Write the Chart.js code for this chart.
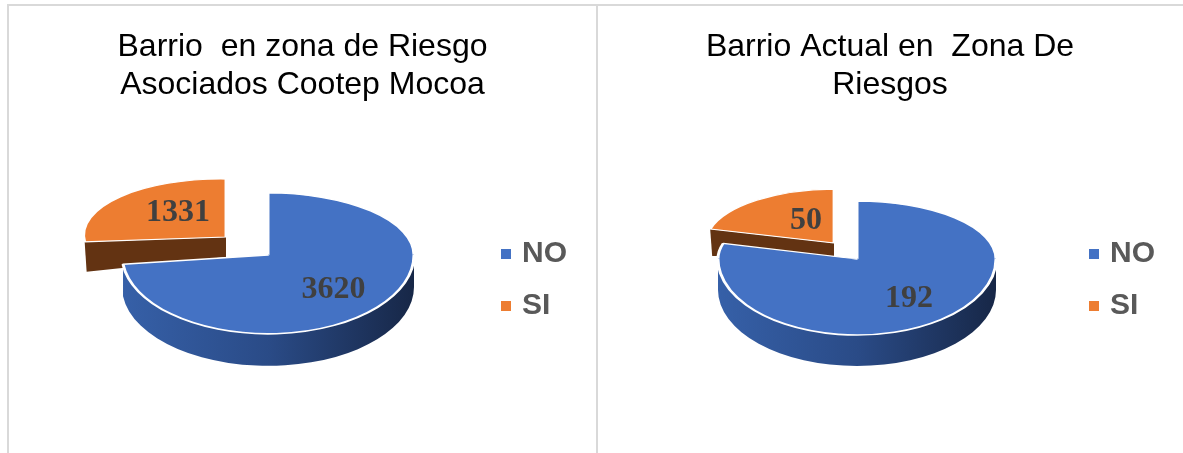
<!DOCTYPE html>
<html><head><meta charset="utf-8">
<script src="https://cdn.jsdelivr.net/npm/chart.js@4"></script>
<style>
html,body{margin:0;padding:0;background:#fff;width:1183px;height:453px;overflow:hidden}
.frame{position:absolute;background:#d9d9d9}
canvas{position:absolute;top:0}
#c1{left:8px}
#c2{left:597px}
</style></head><body>
<div class="frame" style="left:7px;top:4px;width:1176px;height:2px"></div>
<div class="frame" style="left:7px;top:4px;width:2px;height:449px"></div>
<div class="frame" style="left:596px;top:4px;width:2px;height:449px"></div>
<canvas id="c1" width="589" height="560" style="width:589px;height:560px"></canvas>
<canvas id="c2" width="586" height="560" style="width:586px;height:560px"></canvas>
<script>
const categories = ['NO', 'SI'];
const leftValues = [3620, 1331];
const rightValues = [192, 50];
const leftTitle = ['Barrio  en zona de Riesgo', 'Asociados Cootep Mocoa'];
const rightTitle = ['Barrio Actual en  Zona De', 'Riesgos'];

const BLUE = '#4472C4', ORANGE = '#ED7D31', BROWN = '#633312';

function marker(color) {
  const c = document.createElement('canvas');
  c.width = 10; c.height = 10;
  const x = c.getContext('2d');
  x.fillStyle = color; x.fillRect(0, 0, 10, 10);
  return c;
}
const markers = [marker(BLUE), marker(ORANGE)];

// 3D look: the library's own arcs are redrawn through a projection
const pie3d = {
  id: 'pie3d',
  beforeDatasetsDraw(chart, args, o) {
    const ctx = chart.ctx, arcs = chart.getDatasetMeta(0).data;
    const blue = arcs[0], si = arcs[1], R = blue.outerRadius;
    const W = chart.width, H = chart.height;
    const m = [o.a, o.b, 0, o.d, o.siApex[0] - o.a * si.x, o.siApex[1] - o.b * si.x - o.d * si.y];
    const mapSi = (x, y) => [m[0] * x + m[2] * y + m[4], m[1] * x + m[3] * y + m[5]];

    // exploded slice: cut face
    const P = mapSi(si.x + R * Math.cos(si.startAngle), si.y + R * Math.sin(si.startAngle));
    const A = o.siApex;
    ctx.save();
    ctx.fillStyle = BROWN;
    ctx.beginPath();
    ctx.moveTo(P[0], P[1]); ctx.lineTo(A[0], A[1]);
    ctx.lineTo(A[0], A[1] + o.siDepth[1]); ctx.lineTo(P[0] + 2, P[1] + o.siDepth[0]);
    ctx.closePath(); ctx.fill();
    ctx.restore();

    // exploded slice: top
    ctx.save();
    ctx.transform(m[0], m[1], m[2], m[3], m[4], m[5]);
    si.draw(ctx);
    ctx.restore();

    // main slice: rim
    const [ax, ay] = o.apex;
    const end = Math.min(Math.PI, blue.endAngle);
    const g = ctx.createLinearGradient(ax - R, 0, ax + R, 0);
    g.addColorStop(0, '#3660A8'); g.addColorStop(0.5, '#2A4B87'); g.addColorStop(1, '#172747');
    ctx.save();
    ctx.fillStyle = g;
    ctx.beginPath();
    ctx.ellipse(ax, ay, R, R * o.kBottom, 0, 0, end, false);
    ctx.ellipse(ax, ay + o.depth, R, R * o.kBottom, 0, end, 0, true);
    ctx.closePath(); ctx.fill();
    ctx.restore();

    // main slice: top, back half and front half have different foreshortening
    [[0, ay + 0.5, o.kTop], [ay - 0.5, H, o.kBottom]].forEach(([y0, y1, k]) => {
      ctx.save();
      ctx.beginPath(); ctx.rect(0, y0, W, y1 - y0); ctx.clip();
      ctx.transform(1, 0, 0, k, ax - blue.x, ay - k * blue.y);
      blue.draw(ctx);
      ctx.restore();
    });

    // value labels
    ctx.save();
    ctx.font = 'bold 32px "Liberation Serif"';
    ctx.fillStyle = '#404040';
    ctx.textAlign = 'center'; ctx.textBaseline = 'middle';
    const vals = chart.data.datasets[0].data;
    const mb = (blue.startAngle + blue.endAngle) / 2;
    ctx.fillText(String(vals[0]), ax + R * o.labelF[0] * Math.cos(mb), ay + R * o.labelF[0] * o.kBottom * Math.sin(mb) - o.labelLift[0]);
    const ms = (si.startAngle + si.endAngle) / 2;
    const q = mapSi(si.x + R * o.labelF[1] * Math.cos(ms), si.y + R * o.labelF[1] * Math.sin(ms));
    ctx.fillText(String(vals[1]), q[0], q[1] - o.labelLift[1]);
    ctx.restore();
    return false;
  }
};

function makeChart(id, values, title, radius, pad, geo) {
  return new Chart(document.getElementById(id), {
    type: 'pie',
    data: {
      labels: categories,
      datasets: [{ data: values, backgroundColor: [BLUE, ORANGE], borderColor: '#fff', borderWidth: 3 }]
    },
    plugins: [pie3d],
    options: {
      responsive: false,
      animation: false,
      radius: radius,
      layout: { padding: { left: pad, right: pad, top: 0, bottom: 0 } },
      plugins: {
        pie3d: geo,
        tooltip: { enabled: false },
        title: {
          display: true, text: title, color: '#000',
          font: { family: '"Liberation Sans"', size: 32, weight: 'normal', lineHeight: 1.19 },
          padding: { top: 28, bottom: 10 }
        },
        legend: {
          position: 'right',
          labels: {
            color: '#595959', padding: 22,
            usePointStyle: true, boxHeight: 10, pointStyleWidth: 2,
            font: { family: '"Liberation Sans"', size: 30, weight: 'bold' },
            generateLabels(chart) {
              return Chart.overrides.pie.plugins.legend.labels.generateLabels(chart)
                .map((item, i) => Object.assign(item, { pointStyle: markers[i] }));
            }
          }
        }
      }
    }
  });
}

makeChart('c1', leftValues, leftTitle, 146, 20, {
  apex: [260, 255], kTop: 0.425, kBottom: 0.54, depth: 32,
  siApex: [218, 237], a: 0.975, b: 0.014, d: 0.397, siDepth: [30, 20],
  labelF: [0.6, 0.45], labelLift: [-3, 6]
});
makeChart('c2', rightValues, rightTitle, 139, 18, {
  apex: [260, 259], kTop: 0.417, kBottom: 0.547, depth: 31,
  siApex: [237, 243], a: 0.925, b: -0.004, d: 0.388, siDepth: [27, 13],
  labelF: [0.62, 0.36], labelLift: [-2, 7]
});
</script>
</body></html>
